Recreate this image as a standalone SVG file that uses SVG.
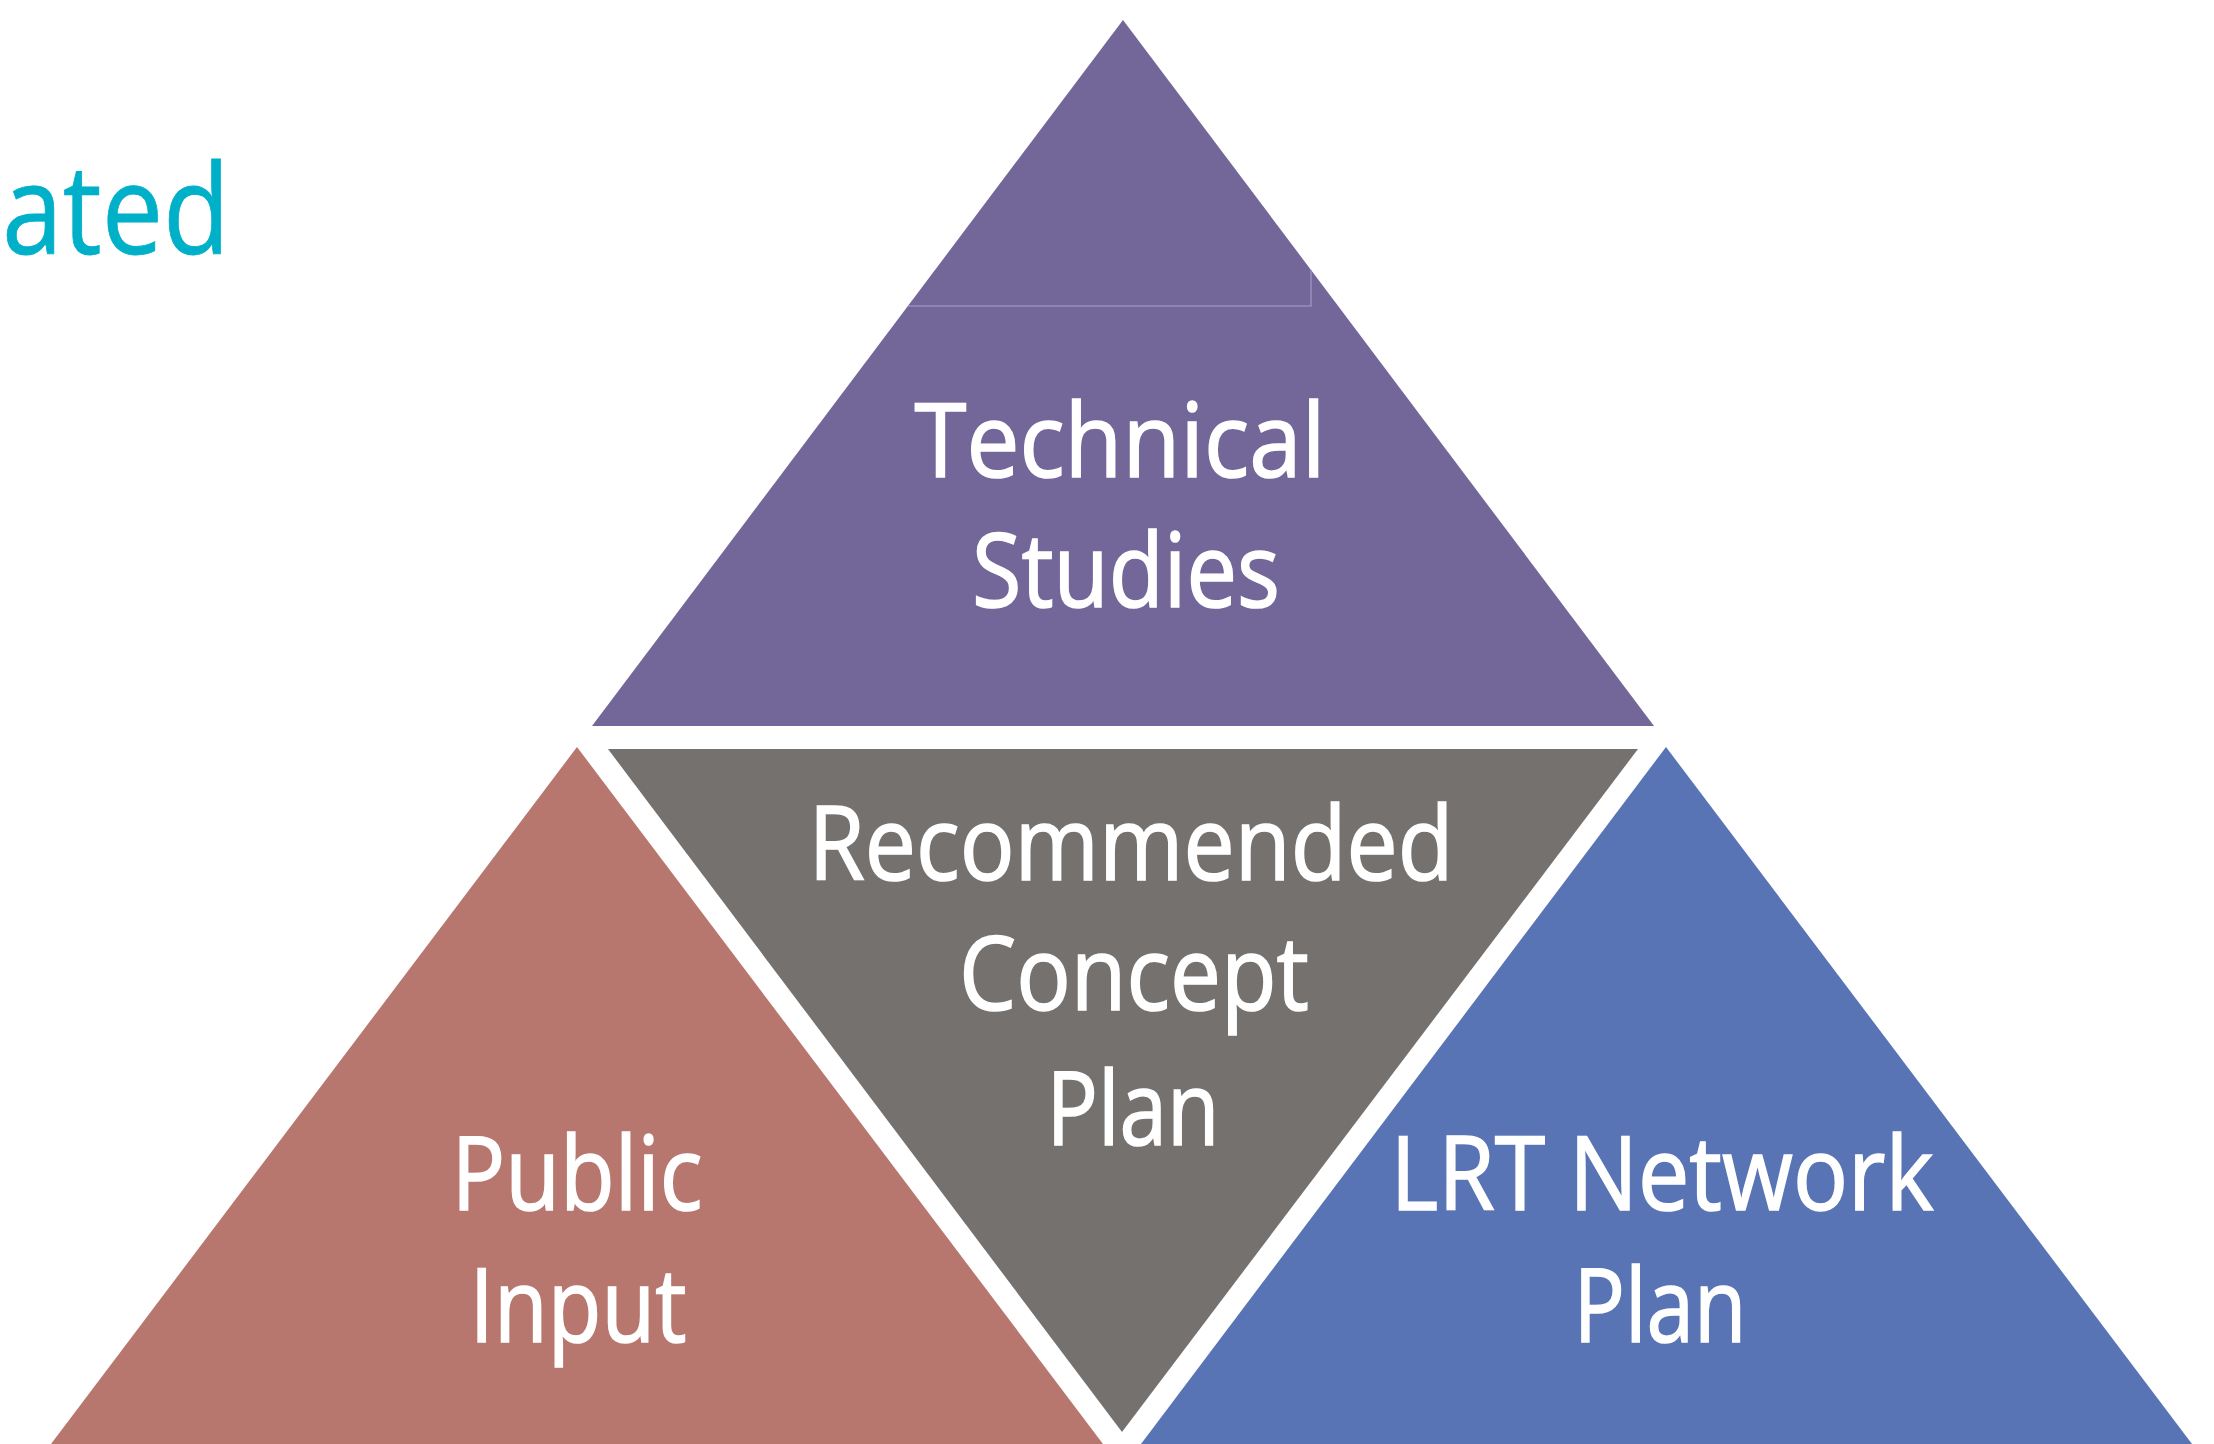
<svg xmlns="http://www.w3.org/2000/svg" width="2214" height="1444" viewBox="0 0 2214 1444">
  <style>
    .lbl { font-family: "Open Sans", "Liberation Sans", sans-serif; font-size: 102px; fill: #ffffff; stroke: #ffffff; stroke-width: 1.6px; text-anchor: middle; }
    .title { font-family: "Open Sans", "Liberation Sans", sans-serif; font-size: 124px; fill: #00B0C8; stroke: #00B0C8; stroke-width: 0.8px; }
  </style>
  <rect x="0" y="0" width="2214" height="1444" fill="#ffffff"/>
  <text class="title" x="2" y="254" textLength="228" lengthAdjust="spacingAndGlyphs">ated</text>

  <g id="technical-studies">
    <polygon points="1123,20 592,726 1654,726" fill="#736699"/>
    <polyline points="908,306 1311,306 1311,270" fill="none" stroke="#9A8FC0" stroke-width="1.5"/>
    <text class="lbl" x="1120" y="477" textLength="411" lengthAdjust="spacingAndGlyphs">Technical</text>
    <text class="lbl" x="1126" y="607" textLength="308" lengthAdjust="spacingAndGlyphs">Studies</text>
  </g>

  <g id="recommended-concept-plan">
    <polygon points="608,749 1638,749 1122,1432" fill="#75716F"/>
    <text class="lbl" x="1131" y="880" textLength="645" lengthAdjust="spacingAndGlyphs">Recommended</text>
    <text class="lbl" x="1134" y="1010" textLength="350" lengthAdjust="spacingAndGlyphs">Concept</text>
    <text class="lbl" x="1133" y="1145" textLength="173" lengthAdjust="spacingAndGlyphs">Plan</text>
  </g>

  <g id="public-input">
    <polygon points="577,747 51,1444 1103,1444" fill="#B7776E"/>
    <text class="lbl" x="577" y="1210" textLength="251" lengthAdjust="spacingAndGlyphs">Public</text>
    <text class="lbl" x="578" y="1342" textLength="217" lengthAdjust="spacingAndGlyphs">Input</text>
  </g>

  <g id="lrt-network-plan">
    <polygon points="1666,747 1141,1444 2192,1444" fill="#5874B4"/>
    <text class="lbl" x="1662" y="1210" textLength="543" lengthAdjust="spacingAndGlyphs">LRT Network</text>
    <text class="lbl" x="1660" y="1342" textLength="173" lengthAdjust="spacingAndGlyphs">Plan</text>
  </g>

  <g id="connectors"></g>
</svg>
